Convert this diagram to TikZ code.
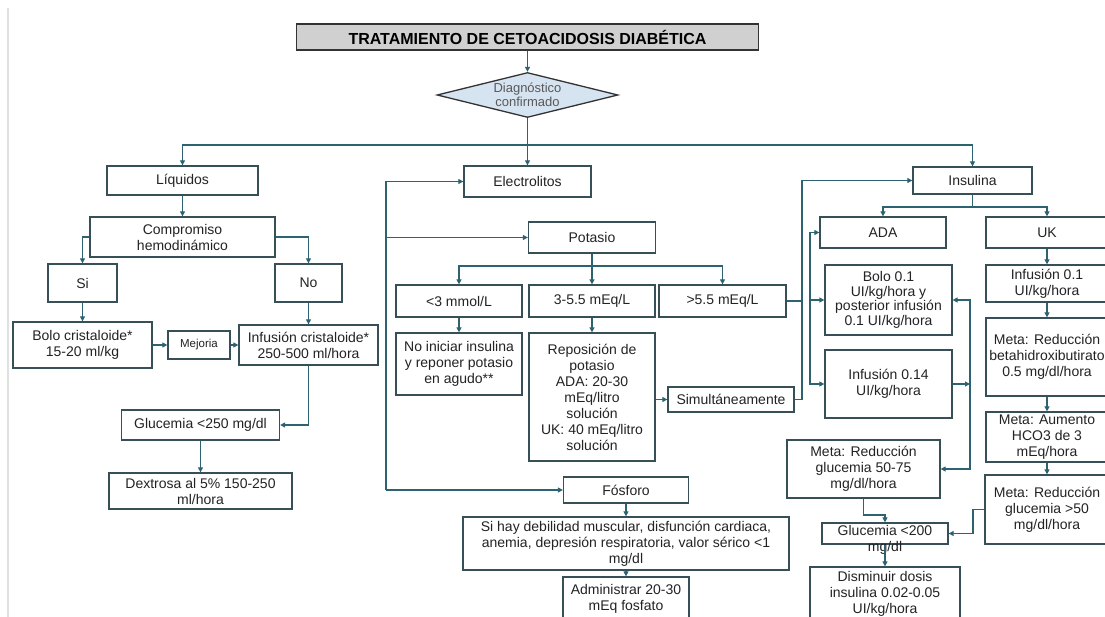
\documentclass[tikz,border=0pt]{standalone}
\usepackage{fontspec}
\setmainfont{Liberation Sans}
\usetikzlibrary{shapes.geometric, arrows.meta, positioning}

\definecolor{linec}{RGB}{45,98,112}
\definecolor{boxc}{RGB}{55,80,88}
\definecolor{txtc}{RGB}{35,35,35}
\definecolor{diafill}{RGB}{214,227,240}
\definecolor{titfill}{RGB}{208,208,208}

\tikzset{
  box/.style={draw=boxc, line width=1.3pt, fill=white, align=center, inner sep=1pt,
    text=txtc, font=\fontsize{14}{16}\selectfont},
  sz/.style 2 args={minimum width=#1pt, minimum height=#2pt},
  conn/.style={draw=linec, line width=1.4pt, -{Triangle[length=5pt,width=5pt]}},
  wire/.style={draw=linec, line width=1.4pt}
}

\begin{document}
\begin{tikzpicture}[x=1pt, y=-1pt]
\useasboundingbox (0,0) rectangle (1105,617);
\clip (0,0) rectangle (1105,617);
\fill[white] (0,0) rectangle (1105,617);
\draw[black!12, line width=1.5pt] (8,8) -- (8,617);   % page edge

% top
\node (title) [box, sz={462}{26}, fill=titfill, draw=black!80, line width=1.5pt, text=black,
  font=\bfseries\fontsize{16}{18}\selectfont] at (527.5,37) {TRATAMIENTO DE CETOACIDOSIS DIABÉTICA};
\node (diag) [diamond, aspect=4, draw=black!80, fill=diafill, line width=1.3pt, sz={181}{45},
  inner sep=0pt, align=center, text=black!65, font=\fontsize{13}{14}\selectfont] at (527.5,95) {Diagnóstico\\confirmado};
\coordinate (hub) at (527.5,145);

% liquidos
\node (liq)    [box, sz={151}{29}] at (182.5,180.5) {Líquidos};
\node (comp)   [box, sz={185}{40}] at (182.5,237) {Compromiso\\hemodinámico};
\node (si)     [box, sz={69}{38}]  at (82.5,283) {Si};
\node (no)     [box, sz={67}{38}]  at (308.5,283) {No};
\node (bolocr) [box, sz={139}{46}] at (82.5,345) {Bolo cristaloide*\\15-20 ml/kg};
\node (mej)    [box, sz={62}{28}, font=\fontsize{11.5}{12}\selectfont] at (199,345) {Mejoria};
\node (infcr)  [box, sz={139}{40}] at (308.5,345) {Infusión cristaloide*\\250-500 ml/hora};
\node (g250)   [box, sz={158}{30}] at (200.5,425) {Glucemia <250 mg/dl};
\node (dex)    [box, sz={183}{36}] at (200.5,491) {Dextrosa al 5\% 150-250\\ml/hora};

% electrolitos
\node (elec)   [box, sz={127}{31}] at (527.5,181.5) {Electrolitos};
\node (pot)    [box, sz={127}{31}] at (592,237.5) {Potasio};
\node (kbajo)  [box, sz={126}{32}] at (459,301) {<3 mmol/L};
\node (kmed)   [box, sz={126}{32}] at (592,301) {3-5.5 mEq/L};
\node (kalto)  [box, sz={127}{32}] at (722.5,301) {>5.5 mEq/L};
\node (noini)  [box, sz={126}{62}] at (459,364) {No iniciar insulina\\y reponer potasio\\en agudo**};
\node (repo)   [box, sz={126}{128}] at (592,397) {Reposición de\\potasio\\ADA: 20-30\\mEq/litro\\solución\\UK: 40 mEq/litro\\solución};
\node (simul)  [box, sz={126}{25}] at (731,399.5) {Simultáneamente};
\node (fos)    [box, sz={125}{26}] at (626,490) {Fósforo};
\node (sihay)  [box, sz={326}{53}] at (626,543.5) {Si hay debilidad muscular, disfunción cardiaca,\\anemia, depresión respiratoria, valor sérico <1\\mg/dl};
\node (admin)  [box, sz={126}{44}] at (626,599) {Administrar 20-30\\mEq fosfato};
\coordinate (ebbot) at (386,490);
\coordinate (pk) at (592,266);

% insulina
\node (ins)    [box, sz={119}{27}] at (972.5,180.5) {Insulina};
\node (ada)    [box, sz={126}{31}] at (883,232.5) {ADA};
\node (uk)     [box, sz={122}{31}] at (1047,232.5) {UK};
\node (bolo)   [box, sz={127}{70}, font=\fontsize{14}{14.5}\selectfont] at (888.5,300) {Bolo 0.1\\UI/kg/hora y\\posterior infusión\\0.1 UI/kg/hora};
\node (inf14)  [box, sz={127}{68}] at (888.5,384) {Infusión 0.14\\UI/kg/hora};
\node (meta1)  [box, sz={153}{58}] at (863.5,469) {Meta: Reducción\\glucemia 50-75\\mg/dl/hora};
\node (g200)   [box, sz={126}{21}] at (885,533.5)
  {\raisebox{-1.5pt}[0pt][0pt]{\begin{tabular}[t]{@{}c@{}}Glucemia <200\\mg/dl\end{tabular}}};
\node (dism)   [box, sz={150}{54}] at (885,594) {Disminuir dosis\\insulina 0.02-0.05\\UI/kg/hora};
\node (inf01)  [box, sz={122}{37}] at (1047,283.5) {Infusión 0.1\\UI/kg/hora};
\node (metab)  [box, sz={122}{78}] at (1047,357) {Meta: Reducción\\betahidroxibutirato\\0.5 mg/dl/hora};
\node (metahco)[box, sz={122}{50}] at (1047,437) {Meta: Aumento\\HCO3 de 3\\mEq/hora};
\node (metag)  [box, sz={124}{69}] at (1047,509.5) {Meta: Reducción\\glucemia >50\\mg/dl/hora};
\coordinate (ik) at (972.5,207);
\coordinate (ib) at (802,180.5);   % bus to insulina
\coordinate (ab) at (810,300);     % bus to ADA
\coordinate (rb) at (970,384);
\coordinate (mk) at (863.5,515);
\coordinate (gk) at (973,533.5);

% connectors
\draw[conn] (title) -- (diag);
\draw[conn] (diag) -- (elec);
\draw[conn] (hub) -| (liq.north);
\draw[conn] (hub) -| (ins.north);

\draw[conn] (liq) -- (comp);
\draw[conn] (comp.west) -| (si.north);
\draw[conn] (comp.east) -| (no.north);
\draw[conn] (si) -- (bolocr);
\draw[conn] (no) -- (infcr);
\draw[conn] (bolocr) -- (mej);
\draw[conn] (mej) -- (infcr);
\draw[conn] (infcr.south) |- (g250.east);
\draw[conn] (g250) -- (dex);

\draw[conn] (ebbot) |- (elec.west);
\draw[conn] (ebbot) |- (pot.west);
\draw[conn] (ebbot) -- (fos.west);
\draw[conn] (pot) -- (kmed);
\draw[conn] (pk) -| (kbajo.north);
\draw[conn] (pk) -| (kalto.north);
\draw[conn] (kbajo) -- (noini);
\draw[conn] (kmed) -- (repo);
\draw[conn] (repo.east |- simul.west) -- (simul.west);
\draw[conn] (fos) -- (sihay);
\draw[conn] (sihay) -- (admin);

\draw[conn] (kalto.east) -| (ib) -- (ins.west);
\draw[wire] (simul.east) -| (ib);
\draw[wire] (ins.south) -- (ik);
\draw[conn] (ik) -| (ada.north);
\draw[conn] (ik) -| (uk.north);
\draw[conn] (ab) |- (ada.west);
\draw[conn] (ab) -- (bolo.west);
\draw[conn] (ab) |- (inf14.west);
\draw[conn] (inf14.east) -- (rb);
\draw[conn] (rb) |- (bolo.east);
\draw[conn] (rb) |- (meta1.east);
\draw[conn] (meta1.south) -- (mk) -| (g200.north);
\draw[conn] (metag.west) -| (gk) -- (g200.east);
\draw[conn] (g200) -- (dism);

\draw[conn] (uk) -- (inf01);
\draw[conn] (inf01) -- (metab);
\draw[conn] (metab) -- (metahco);
\draw[conn] (metahco) -- (metag);
\end{tikzpicture}
\end{document}
